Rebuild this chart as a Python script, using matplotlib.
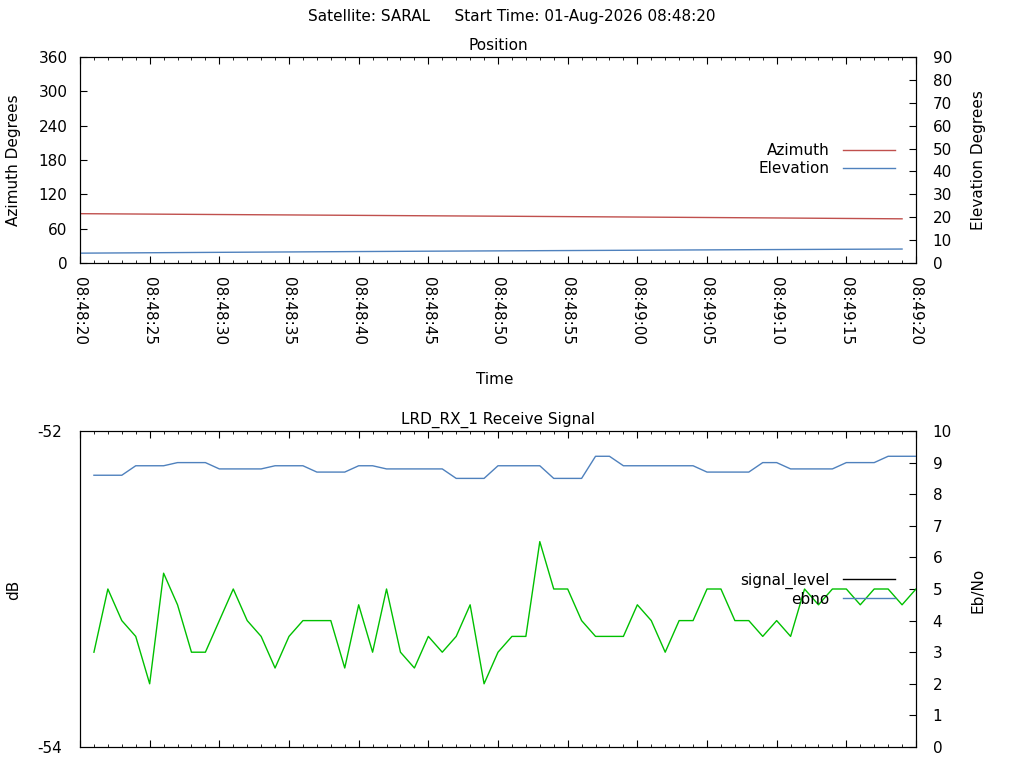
import pandas as pd
import matplotlib
matplotlib.use('Agg')
import matplotlib.pyplot as plt
import matplotlib.dates as mdates

# Dados da passagem do satélite
pos_times = ['08:48:20', '08:48:25', '08:48:30', '08:48:35', '08:48:40', '08:48:45', '08:48:50',
             '08:48:55', '08:49:00', '08:49:05', '08:49:10', '08:49:15', '08:49:19']
azimuth = [86.2, 85.45, 84.7, 84.0, 83.25, 82.5, 81.8, 81.05, 80.3, 79.5, 78.7, 77.85, 77.2]
elevation = [4.3, 4.48, 4.66, 4.83, 5.0, 5.16, 5.3, 5.44, 5.58, 5.73, 5.87, 6.0, 6.1]

# Sinal recebido (uma amostra por segundo, 08:48:21 .. 08:49:20)
ebno = [8.6, 8.6, 8.6, 8.9, 8.9, 8.9, 9.0, 9.0, 9.0, 8.8,
        8.8, 8.8, 8.8, 8.9, 8.9, 8.9, 8.7, 8.7, 8.7, 8.9,
        8.9, 8.8, 8.8, 8.8, 8.8, 8.8, 8.5, 8.5, 8.5, 8.9,
        8.9, 8.9, 8.9, 8.5, 8.5, 8.5, 9.2, 9.2, 8.9, 8.9,
        8.9, 8.9, 8.9, 8.9, 8.7, 8.7, 8.7, 8.7, 9.0, 9.0,
        8.8, 8.8, 8.8, 8.8, 9.0, 9.0, 9.0, 9.2, 9.2, 9.2]
green_trace = [3, 5, 4, 3.5, 2, 5.5, 4.5, 3, 3, 4,
               5, 4, 3.5, 2.5, 3.5, 4, 4, 4, 2.5, 4.5,
               3, 5, 3, 2.5, 3.5, 3, 3.5, 4.5, 2, 3,
               3.5, 3.5, 6.5, 5, 5, 4, 3.5, 3.5, 3.5, 4.5,
               4, 3, 4, 4, 5, 5, 4, 4, 3.5, 4,
               3.5, 5, 4.5, 5, 5, 4.5, 5, 5, 4.5, 5]
signal_level = []  # fora da escala -54..-52, não aparece no gráfico

dia = '2026-08-01 '
t_pos = pd.to_datetime([dia + t for t in pos_times])
t_sig = pd.date_range(dia + '08:48:21', periods=len(ebno), freq='s')
t_sig_level = pd.to_datetime([])
x_ini = pd.Timestamp(dia + '08:48:20')
x_fim = pd.Timestamp(dia + '08:49:20')

RED = '#c0504d'
BLUE = '#4f81bd'
GREEN = '#00c000'
FS = 11

plt.rcParams['font.family'] = 'DejaVu Sans'
plt.rcParams['font.size'] = FS
plt.rcParams['axes.unicode_minus'] = False

fig = plt.figure(figsize=(10.24, 7.68), dpi=100)
W, H = 1024, 768


def eixo(l, t, r, b):
    return fig.add_axes([l / W, 1 - b / H, (r - l) / W, (b - t) / H])


def estilo_x(ax, labels):
    ax.set_xlim(x_ini, x_fim)
    ax.xaxis.set_major_locator(mdates.SecondLocator(bysecond=range(0, 60, 5)))
    ax.xaxis.set_minor_locator(mdates.SecondLocator())
    ax.xaxis.set_major_formatter(mdates.DateFormatter('%H:%M:%S'))
    ax.tick_params(axis='x', which='both', direction='in', top=True, bottom=True)
    ax.tick_params(axis='x', which='major', length=5, pad=10, labelbottom=labels)
    ax.tick_params(axis='x', which='minor', length=2.5)
    if labels:
        for lb in ax.get_xticklabels():
            lb.set_rotation(270)
            lb.set_va('top')
            lb.set_ha('center')


# ---- Posição ----
ax1 = eixo(80, 57, 916, 263)
ax1r = ax1.twinx()
l_az, = ax1.plot(t_pos, azimuth, color=RED, lw=1.0, label='Azimuth')
l_el, = ax1r.plot(t_pos, elevation, color=BLUE, lw=1.0, label='Elevation')
ax1.set_ylim(0, 360)
ax1.set_yticks(range(0, 361, 60))
ax1r.set_ylim(0, 90)
ax1r.set_yticks(range(0, 91, 10))
estilo_x(ax1, True)
ax1.tick_params(axis='y', direction='in', length=5, pad=9, left=True, right=False)
ax1r.tick_params(axis='y', direction='in', length=5, pad=12)
ax1r.tick_params(axis='x', which='both', bottom=False, top=False, labelbottom=False)
ax1.set_title('Position', fontsize=FS, y=1 + 11 / 206, va='center', pad=0)
ax1.set_ylabel('Azimuth Degrees')
ax1.yaxis.set_label_coords((14 - 80) / 836, 0.5)
ax1.yaxis.label.set_va('center')
ax1r.set_ylabel('Elevation Degrees')
ax1r.yaxis.set_label_coords((978 - 80) / 836, 0.5)
ax1r.yaxis.label.set_va('center')
ax1.set_xlabel('Time')
ax1.xaxis.set_label_coords((495 - 80) / 836, (263 - 379) / 206)
ax1.xaxis.label.set_va('center')
ax1r.legend(handles=[l_az, l_el], loc='center right', bbox_to_anchor=(0.975, 0.501),
            frameon=False, markerfirst=False, handlelength=3.4, handletextpad=0.9,
            labelspacing=0.2, borderpad=0, borderaxespad=0, fontsize=FS)

# ---- Sinal ----
ax2 = eixo(80, 431, 916, 747)
ax2r = ax2.twinx()
l_sl, = ax2.plot(t_sig_level, signal_level, color='black', lw=1.0, label='signal_level')
ax2r.plot(t_sig, green_trace, color=GREEN, lw=1.0, label='_nolegend_')
l_eb, = ax2r.plot(t_sig, ebno, color=BLUE, lw=1.0, label='ebno')
ax2.set_ylim(-54, -52)
ax2.set_yticks([-54, -52])
ax2r.set_ylim(0, 10)
ax2r.set_yticks(range(0, 11))
estilo_x(ax2, False)
ax2.tick_params(axis='y', direction='in', length=0, pad=13)
ax2r.tick_params(axis='y', direction='in', length=5, pad=12)
ax2r.tick_params(axis='x', which='both', bottom=False, top=False, labelbottom=False)
ax2.set_title('LRD_RX_1 Receive Signal', fontsize=FS, y=1 + 11 / 316, va='center', pad=0)
ax2.set_ylabel('dB')
ax2.yaxis.set_label_coords((14 - 80) / 836, (747 - 590) / 316)
ax2.yaxis.label.set_va('center')
ax2r.set_ylabel('Eb/No')
ax2r.yaxis.set_label_coords((978 - 80) / 836, (747 - 590) / 316)
ax2r.yaxis.label.set_va('center')
ax2r.legend(handles=[l_sl, l_eb], loc='center right', bbox_to_anchor=(0.975, 0.498),
            frameon=False, markerfirst=False, handlelength=3.4, handletextpad=0.9,
            labelspacing=0.2, borderpad=0, borderaxespad=0, fontsize=FS)

fig.text(0.5, 1 - 17 / H, 'Satellite: SARAL     Start Time: 01-Aug-2026 08:48:20',
         ha='center', va='center', fontsize=FS)

fig.savefig('out.png', dpi=100)
